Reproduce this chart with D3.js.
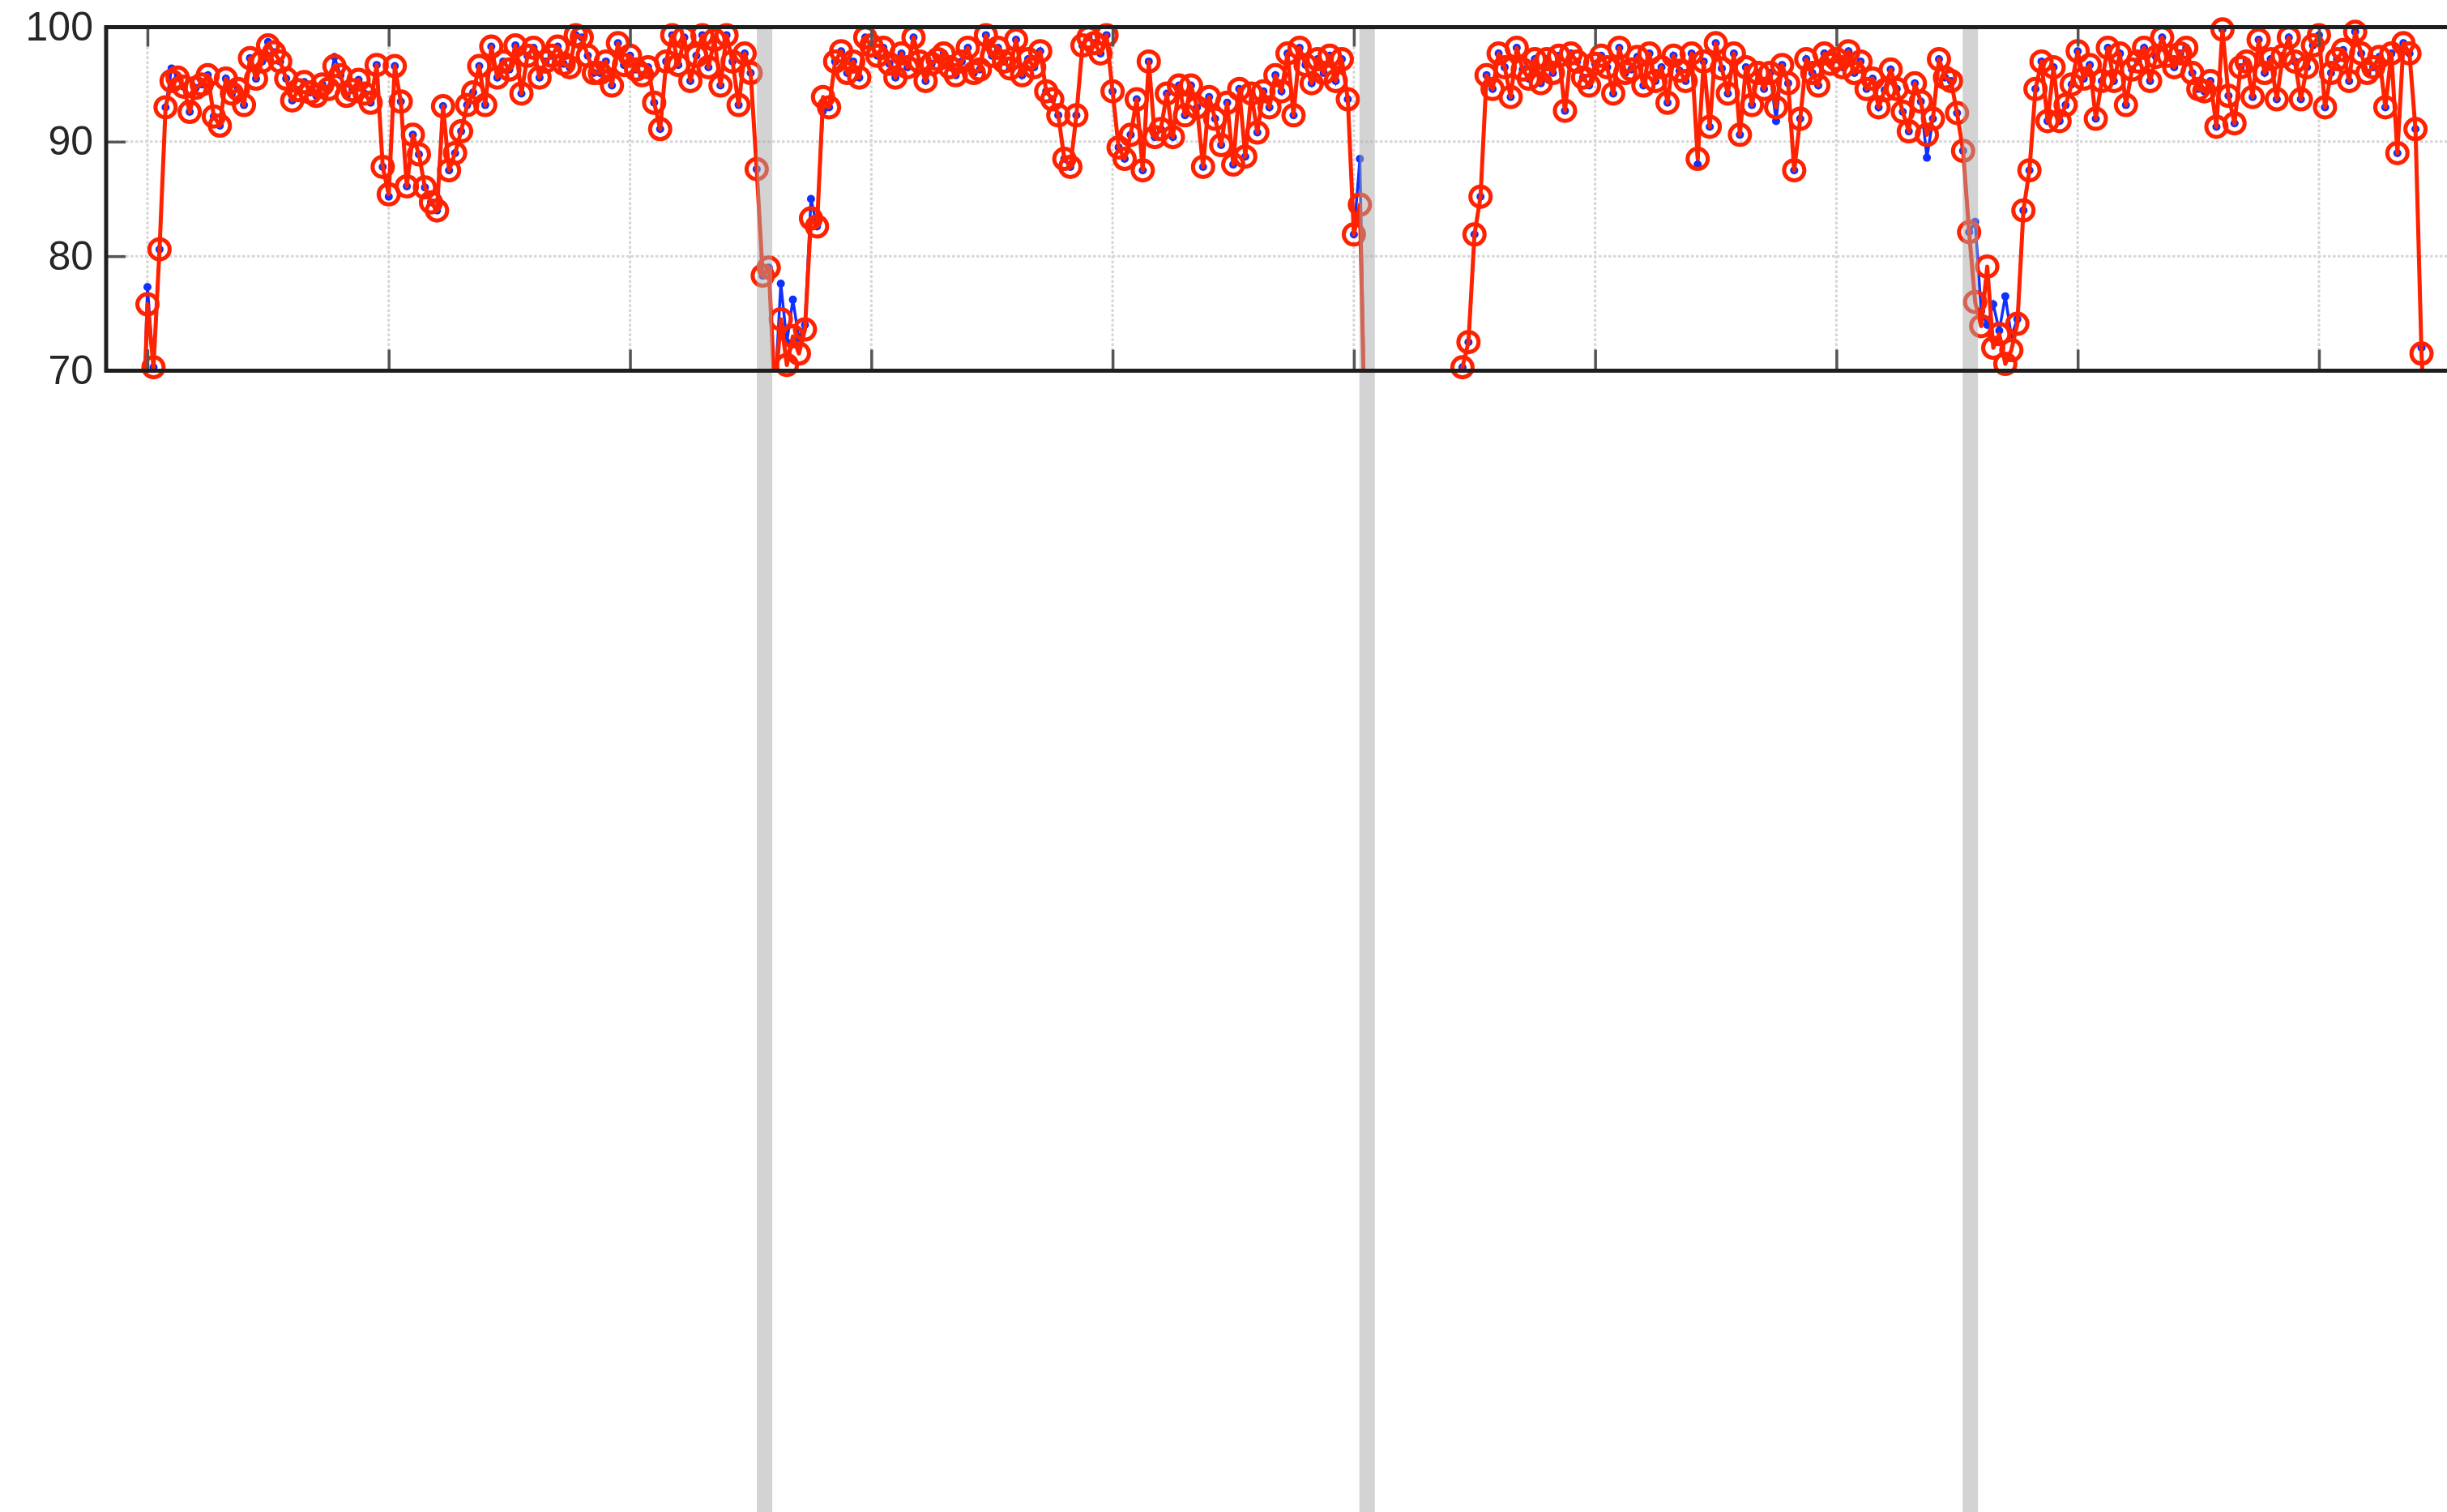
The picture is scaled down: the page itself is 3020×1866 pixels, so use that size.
<!DOCTYPE html>
<html>
<head>
	<meta charset="utf-8">
	<style>
		body { margin: 0; background: #fff; }
		svg { display: block; }
		text { font-family: "Liberation Sans", Arial, sans-serif; }
	</style>
</head>
<body>

	<div id="graph"></div>

	<script src="https://cdn.jsdelivr.net/npm/d3@7"></script>

	<script>
		// sample index of the first value
		const firstSample = 39;

		// red series (circles), one value per sample, null = no data
		const redValues = [
			60.0,
			75.8, 70.3, 80.6, 93.0, 95.3, 95.6, 94.8, 92.6, 94.7, 95.0,
			95.8, 92.2, 91.4, 95.5, 94.2, 94.6, 93.2, 97.3, 95.5, 97.0,
			98.4, 97.8, 97.0, 95.5, 93.6, 94.5, 95.2, 94.3, 94.0, 95.0,
			94.6, 96.6, 95.8, 94.0, 94.5, 95.4, 94.2, 93.4, 96.7, 87.8,
			85.4, 96.6, 93.5, 86.1, 90.6, 88.9, 86.0, 84.7, 84.0, 93.1,
			87.5, 89.0, 90.9, 93.2, 94.3, 96.6, 93.2, 98.3, 95.6, 97.0,
			96.3, 98.4, 94.2, 97.5, 98.2, 95.6, 97.0, 97.5, 98.3, 96.8,
			96.5, 99.3, 99.1, 97.5, 96.0, 96.0, 97.0, 94.9, 98.6, 96.7,
			97.5, 96.3, 95.8, 96.5, 93.4, 91.1, 97.0, 99.3, 96.7, 99.1,
			95.3, 97.5, 99.3, 96.5, 98.9, 94.9, 99.3, 97.0, 93.2, 97.7,
			96.0, 87.6, 78.3, 79.0, 68.0, 74.5, 70.5, 73.0, 71.5, 73.6,
			83.3, 82.6, 93.9, 93.0, 97.0, 97.9, 96.0, 97.0, 95.6, 99.1,
			98.4, 97.5, 98.2, 96.8, 95.6, 97.7, 96.5, 99.1, 97.0, 95.3,
			96.8, 97.2, 97.7, 96.5, 95.8, 97.0, 98.2, 96.0, 96.3, 99.3,
			97.5, 98.2, 97.0, 96.4, 98.9, 95.8, 97.2, 96.5, 97.9, 94.4,
			93.7, 92.3, 88.5, 87.8, 92.3, 98.4, 99.1, 98.6, 97.7, 99.3,
			94.4, 89.5, 88.5, 90.6, 93.7, 87.5, 97.0, 90.4, 91.1, 94.2,
			90.4, 94.9, 92.3, 94.9, 93.0, 87.8, 93.9, 92.0, 89.7, 93.4,
			88.0, 94.6, 88.7, 94.2, 90.8, 94.4, 93.0, 95.8, 94.4, 97.7,
			92.3, 98.2, 96.7, 95.1, 97.2, 96.0, 97.5, 95.3, 97.2, 93.7,
			81.9, 84.5, 60.0, 60.0, null, null, null, null, null, null,
			null, null, null, null, null, null, null, 60.0, 70.3, 72.5,
			81.9, 85.2, 95.8, 94.6, 97.7, 96.5, 93.9, 98.2, 96.3, 95.5,
			97.2, 95.1, 97.2, 96.0, 97.5, 92.7, 97.7, 97.0, 95.6, 94.9,
			96.8, 97.5, 96.5, 94.2, 98.2, 96.0, 96.3, 97.4, 94.9, 97.7,
			95.3, 96.5, 93.4, 97.5, 96.2, 95.3, 97.7, 88.5, 97.0, 91.3,
			98.6, 96.4, 94.2, 97.7, 90.6, 96.5, 93.2, 96.0, 94.6, 96.0,
			93.0, 96.7, 95.1, 87.5, 92.0, 97.2, 96.0, 94.9, 97.7, 96.8,
			97.2, 96.5, 97.9, 96.0, 97.0, 94.6, 95.5, 93.0, 94.5, 96.3,
			94.6, 92.6, 90.9, 95.1, 93.5, 90.6, 92.0, 97.2, 95.6, 95.3,
			92.5, 89.2, 82.1, 76.0, 73.9, 79.1, 72.0, 73.2, 70.6, 71.8,
			74.1, 84.0, 87.5, 94.6, 97.0, 91.8, 96.5, 91.8, 93.2, 95.0,
			97.9, 95.5, 96.7, 92.0, 95.3, 98.2, 95.3, 97.7, 93.2, 96.3,
			97.0, 98.2, 95.3, 97.4, 99.1, 97.5, 96.5, 97.7, 98.2, 96.0,
			94.6, 94.4, 95.3, 91.3, 99.8, 94.0, 91.6, 96.5, 97.0, 93.9,
			98.9, 96.0, 97.2, 93.7, 97.5, 99.1, 97.0, 93.7, 96.5, 98.4,
			99.3, 93.0, 96.0, 97.2, 98.0, 95.3, 99.6, 97.7, 96.0, 96.5,
			97.4, 93.0, 97.7, 89.0, 98.6, 97.7, 91.1, 71.5, 60.0
		];

		// blue series (dots), same samples
		const blueValues = [
			60.0,
			77.3, 70.3, 80.6, 93.0, 96.4, 95.6, 94.8, 92.6, 94.7, 95.0,
			95.8, 92.2, 91.4, 95.5, 94.2, 94.6, 93.2, 97.3, 95.5, 97.0,
			98.7, 97.8, 97.0, 95.5, 93.6, 94.5, 95.2, 94.3, 94.0, 95.0,
			94.6, 97.4, 95.8, 94.0, 94.5, 95.4, 94.2, 93.4, 96.7, 87.8,
			85.2, 96.6, 93.5, 86.1, 90.6, 88.9, 86.0, 84.7, 84.0, 93.1,
			87.5, 89.0, 90.9, 93.2, 94.3, 96.6, 93.2, 98.3, 95.6, 97.0,
			96.3, 98.4, 94.2, 97.5, 98.2, 95.6, 97.0, 97.5, 98.3, 96.8,
			96.5, 99.3, 99.1, 97.5, 96.0, 96.0, 97.0, 94.9, 98.6, 96.7,
			97.5, 96.3, 95.8, 96.5, 93.4, 91.1, 97.0, 99.3, 96.7, 99.1,
			95.3, 97.5, 99.3, 96.5, 98.9, 94.9, 99.3, 97.0, 93.2, 97.7,
			96.0, 87.6, 78.3, 79.0, 68.0, 77.6, 72.5, 76.2, 72.8, 74.0,
			85.0, 82.6, 92.7, 93.0, 97.0, 97.9, 96.0, 97.0, 95.6, 99.1,
			98.4, 97.5, 98.2, 96.8, 95.6, 97.7, 96.5, 99.1, 97.0, 95.3,
			96.8, 97.2, 97.7, 96.5, 95.8, 97.0, 98.2, 96.0, 96.3, 99.3,
			97.5, 98.2, 97.0, 96.4, 98.9, 95.8, 97.2, 96.5, 97.9, 94.4,
			93.7, 92.3, 88.5, 87.8, 92.3, 98.4, 99.1, 98.6, 97.7, 99.3,
			94.4, 89.5, 88.5, 90.6, 93.7, 87.5, 97.0, 90.4, 91.1, 94.2,
			90.4, 94.9, 92.3, 94.9, 93.0, 87.8, 93.9, 92.0, 89.7, 93.4,
			88.0, 94.6, 88.7, 94.2, 90.8, 94.4, 93.0, 95.8, 94.4, 97.7,
			92.3, 98.2, 96.7, 95.1, 97.2, 96.0, 97.5, 95.3, 97.2, 93.7,
			81.9, 88.5, 60.0, 60.0, null, null, null, null, null, null,
			null, null, null, null, null, null, null, 60.0, 70.3, 72.5,
			81.9, 85.2, 95.8, 94.6, 97.7, 96.5, 93.9, 98.2, 96.3, 95.5,
			97.2, 95.1, 97.2, 96.0, 97.5, 92.7, 97.7, 97.0, 95.6, 94.9,
			96.8, 97.5, 96.5, 94.2, 98.2, 96.0, 96.3, 97.4, 94.9, 97.7,
			95.3, 96.5, 93.4, 97.5, 96.2, 95.3, 97.7, 88.0, 97.0, 91.3,
			98.6, 96.4, 94.2, 97.7, 90.6, 96.5, 93.2, 96.0, 94.6, 96.0,
			91.8, 96.7, 95.1, 87.5, 92.0, 97.2, 96.0, 94.9, 97.7, 96.8,
			97.2, 96.5, 97.9, 96.0, 97.0, 94.6, 95.5, 93.0, 94.5, 96.3,
			94.6, 92.6, 90.9, 95.1, 93.5, 88.6, 92.0, 97.2, 95.6, 95.3,
			92.5, 89.2, 82.1, 83.0, 75.2, 74.0, 75.8, 73.5, 76.5, 73.0,
			74.5, 84.0, 87.5, 94.6, 97.0, 91.8, 96.5, 91.8, 93.2, 95.0,
			97.9, 95.5, 96.7, 92.0, 95.3, 98.2, 95.3, 97.7, 93.2, 96.3,
			97.0, 98.2, 95.3, 97.4, 99.1, 97.5, 96.5, 97.7, 98.2, 96.0,
			94.6, 94.4, 95.3, 91.3, 99.8, 94.0, 91.6, 96.5, 97.0, 93.9,
			98.9, 96.0, 97.2, 93.7, 97.5, 99.1, 97.0, 93.7, 96.5, 98.4,
			99.3, 93.0, 96.0, 97.2, 98.0, 95.3, 99.6, 97.7, 96.0, 96.5,
			97.4, 93.0, 97.7, 89.0, 98.6, 97.7, 91.1, 72.0, 60.0
		];

		const xTicks = [40, 80, 120, 160, 200, 240, 280, 320, 360, 400];
		const yTicks = [70, 80, 90, 100];

		// sample positions of the grey event bands
		const bandCenters = [142.3, 242.2, 342.2];

		const W = 3020;
		const H = 1866;

		const plot = { left: 131, right: 3030, top: 33.5, bottom: 457.5 };

		const x = d3.scaleLinear()
			.domain([40, 400])
			.range([182, 2862]);

		const y = d3.scaleLinear()
			.domain([70, 100])
			.range([plot.bottom, plot.top]);

		const toPoints = vals => vals.map((v, i) => ({ s: firstSample + i, v: v }));
		const red = toPoints(redValues);
		const blue = toPoints(blueValues);
		const inView = d => d.v !== null && d.v >= 70 && d.v <= 100;

		const svg = d3.select('#graph')
			.append('svg')
			.attr('width', W)
			.attr('height', H);

		svg.append('rect')
			.attr('width', W)
			.attr('height', H)
			.attr('fill', '#fff');

		svg.append('clipPath')
			.attr('id', 'clip')
			.append('rect')
			.attr('x', plot.left)
			.attr('y', plot.top)
			.attr('width', plot.right - plot.left)
			.attr('height', plot.bottom - plot.top);

		// dotted grid
		const grid = svg.append('g');
		grid.selectAll('line.gx')
			.data(xTicks)
			.enter().append('line')
			.attr('x1', d => x(d)).attr('x2', d => x(d))
			.attr('y1', plot.top).attr('y2', plot.bottom);
		grid.selectAll('line.gy')
			.data(yTicks.slice(1, -1))
			.enter().append('line')
			.attr('x1', plot.left).attr('x2', plot.right)
			.attr('y1', d => y(d)).attr('y2', d => y(d));
		grid.selectAll('line')
			.attr('stroke', '#d6d6d6')
			.attr('stroke-width', 3)
			.attr('stroke-dasharray', '3.5,2.5');

		const createLine = d3.line()
			.defined(d => d.v !== null)
			.x(d => x(d.s))
			.y(d => y(d.v));

		// blue series
		svg.append('path')
			.attr('d', createLine(blue))
			.attr('clip-path', 'url(#clip)')
			.attr('fill', 'none')
			.attr('stroke', '#1030ff')
			.attr('stroke-width', 3.5);

		svg.append('g')
			.selectAll('circle')
			.data(blue.filter(inView))
			.enter().append('circle')
			.attr('cx', d => x(d.s))
			.attr('cy', d => y(d.v))
			.attr('r', 5)
			.attr('fill', '#1030ff');

		// red series
		svg.append('path')
			.attr('d', createLine(red))
			.attr('clip-path', 'url(#clip)')
			.attr('fill', 'none')
			.attr('stroke', '#ff2200')
			.attr('stroke-width', 5)
			.attr('stroke-linejoin', 'round');

		svg.append('g')
			.selectAll('circle')
			.data(red.filter(inView))
			.enter().append('circle')
			.attr('cx', d => x(d.s))
			.attr('cy', d => y(d.v))
			.attr('r', 12.5)
			.attr('fill', 'none')
			.attr('stroke', '#ff2200')
			.attr('stroke-width', 5);

		// grey bands, drawn over the data and down to the page bottom
		svg.append('g')
			.selectAll('rect')
			.data(bandCenters)
			.enter().append('rect')
			.attr('x', d => x(d) - 9.5)
			.attr('y', plot.top)
			.attr('width', 19)
			.attr('height', H - plot.top)
			.attr('fill', '#a7a7a7')
			.attr('opacity', 0.5);

		// axes with inward ticks
		const yAxis = d3.axisLeft(y)
			.tickValues(yTicks)
			.tickSize(-24)
			.tickPadding(16)
			.tickFormat(d3.format('d'));

		const xAxisBottom = d3.axisBottom(x).tickValues(xTicks).tickSize(-26).tickFormat('');
		const xAxisTop = d3.axisTop(x).tickValues(xTicks).tickSize(-24).tickFormat('');

		const gy = svg.append('g').attr('transform', `translate(${plot.left}, 0)`).call(yAxis);
		svg.append('g').attr('transform', `translate(0, ${plot.bottom})`).call(xAxisBottom);
		svg.append('g').attr('transform', `translate(0, ${plot.top})`).call(xAxisTop);

		svg.selectAll('.domain').remove();
		svg.selectAll('.tick line')
			.attr('stroke', '#555')
			.attr('stroke-width', 3.5);
		gy.selectAll('text')
			.attr('font-size', 50)
			.attr('fill', '#262626');

		// box
		svg.append('rect')
			.attr('x', plot.left)
			.attr('y', plot.top)
			.attr('width', plot.right - plot.left)
			.attr('height', plot.bottom - plot.top)
			.attr('fill', 'none')
			.attr('stroke', '#1e1e1e')
			.attr('stroke-width', 5);
	</script>

</body>
</html>
